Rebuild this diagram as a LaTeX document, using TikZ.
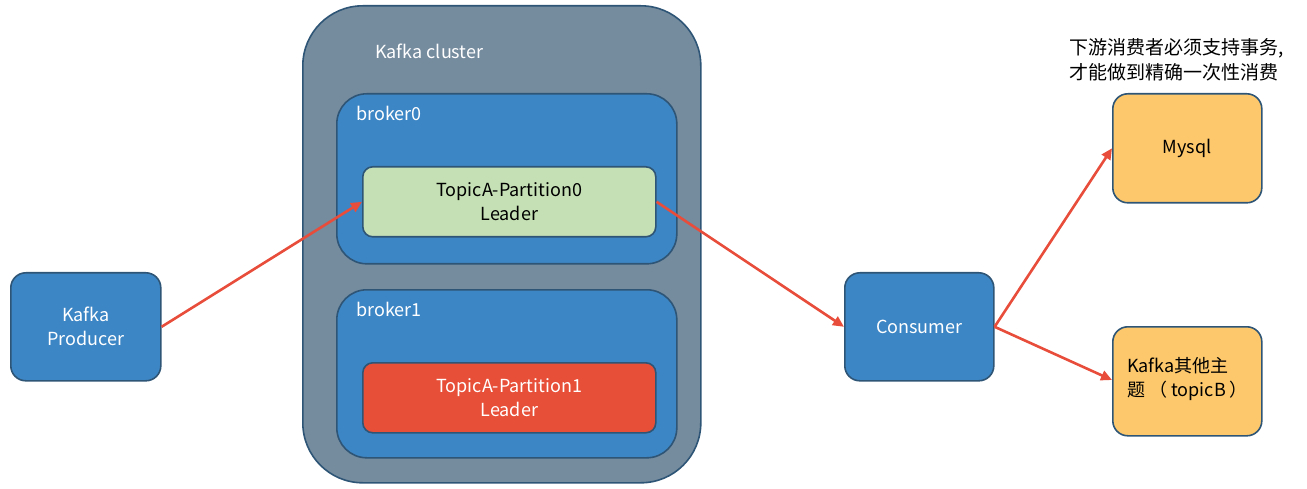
\documentclass[tikz,border=0pt]{standalone}
\usepackage{fontspec}
\setmainfont{Noto Sans CJK SC}
\usetikzlibrary{arrows.meta}
\definecolor{bluebox}{HTML}{3D86C5}
\definecolor{clusterfill}{HTML}{758B9E}
\definecolor{edge}{HTML}{2E5576}
\definecolor{greenbox}{HTML}{C5E0B4}
\definecolor{redbox}{HTML}{E84F38}
\definecolor{orangebox}{HTML}{FDC86C}
\definecolor{arrowred}{HTML}{E84C3A}
\tikzset{
  base/.style={draw=edge, line width=1.6pt, anchor=north west, inner sep=0pt, align=center, font=\fontsize{18}{24}\selectfont},
  bluenode/.style={base, fill=bluebox, text=white, rounded corners=15pt},
  orangenode/.style={base, fill=orangebox, text=black, rounded corners=15pt},
  partnode/.style={base, rounded corners=10pt},
  lbl/.style={anchor=west, inner sep=0pt, font=\fontsize{18}{24}\selectfont},
  conn/.style={draw=arrowred, line width=2.6pt, -{Triangle[length=11pt,width=10pt]}}
}
\begin{document}
\begin{tikzpicture}[x=1pt,y=-1pt]
\useasboundingbox (0,0) rectangle (1307,489);
\node[base, fill=clusterfill, rounded corners=60pt, minimum width=398pt, minimum height=477pt] (cluster) at (302,5) {};
\node[lbl, text=white] (clusterlbl) at (375,51) {Kafka cluster};
\node[base, fill=bluebox, rounded corners=30pt, minimum width=340pt, minimum height=170pt] (broker0) at (336,93) {};
\node[lbl, text=white] (b0lbl) at (356,113) {broker0};
\node[base, fill=bluebox, rounded corners=30pt, minimum width=340pt, minimum height=168pt] (broker1) at (336,289) {};
\node[lbl, text=white] (b1lbl) at (356,309) {broker1};
\node[partnode, fill=greenbox, text=black, minimum width=293pt, minimum height=70pt] (p0) at (362,166) {TopicA-Partition0\\Leader};
\node[partnode, fill=redbox, text=white, minimum width=293pt, minimum height=70pt] (p1) at (362,362) {TopicA-Partition1\\Leader};
\node[bluenode, minimum width=150pt, minimum height=108pt] (producer) at (10,272) {Kafka\\Producer};
\node[bluenode, minimum width=149pt, minimum height=108pt] (consumer) at (844,272) {Consumer};
\node[orangenode, minimum width=149pt, minimum height=109pt] (mysql) at (1112,93) {Mysql};
\node[orangenode, minimum width=149pt, minimum height=109pt] (topicb) at (1112,326) {};
\node[anchor=north west, inner sep=0pt, align=left, font=\fontsize{18}{24}\selectfont] (topicbtxt) at (1127,357) {Kafka其他主\\题 （ topicB ）};
\node[anchor=north west, inner sep=0pt, align=left, font=\fontsize{19}{25}\selectfont] (note) at (1069,38) {下游消费者必须支持事务,\\才能做到精确一次性消费};
\draw[conn] (producer.east) -- (p0.west);
\draw[conn] (p0.east) -- (consumer.west);
\draw[conn] (consumer.east) -- (mysql.west);
\draw[conn] (consumer.east) -- ([yshift=-54pt]topicb.north west);
\end{tikzpicture}
\end{document}
